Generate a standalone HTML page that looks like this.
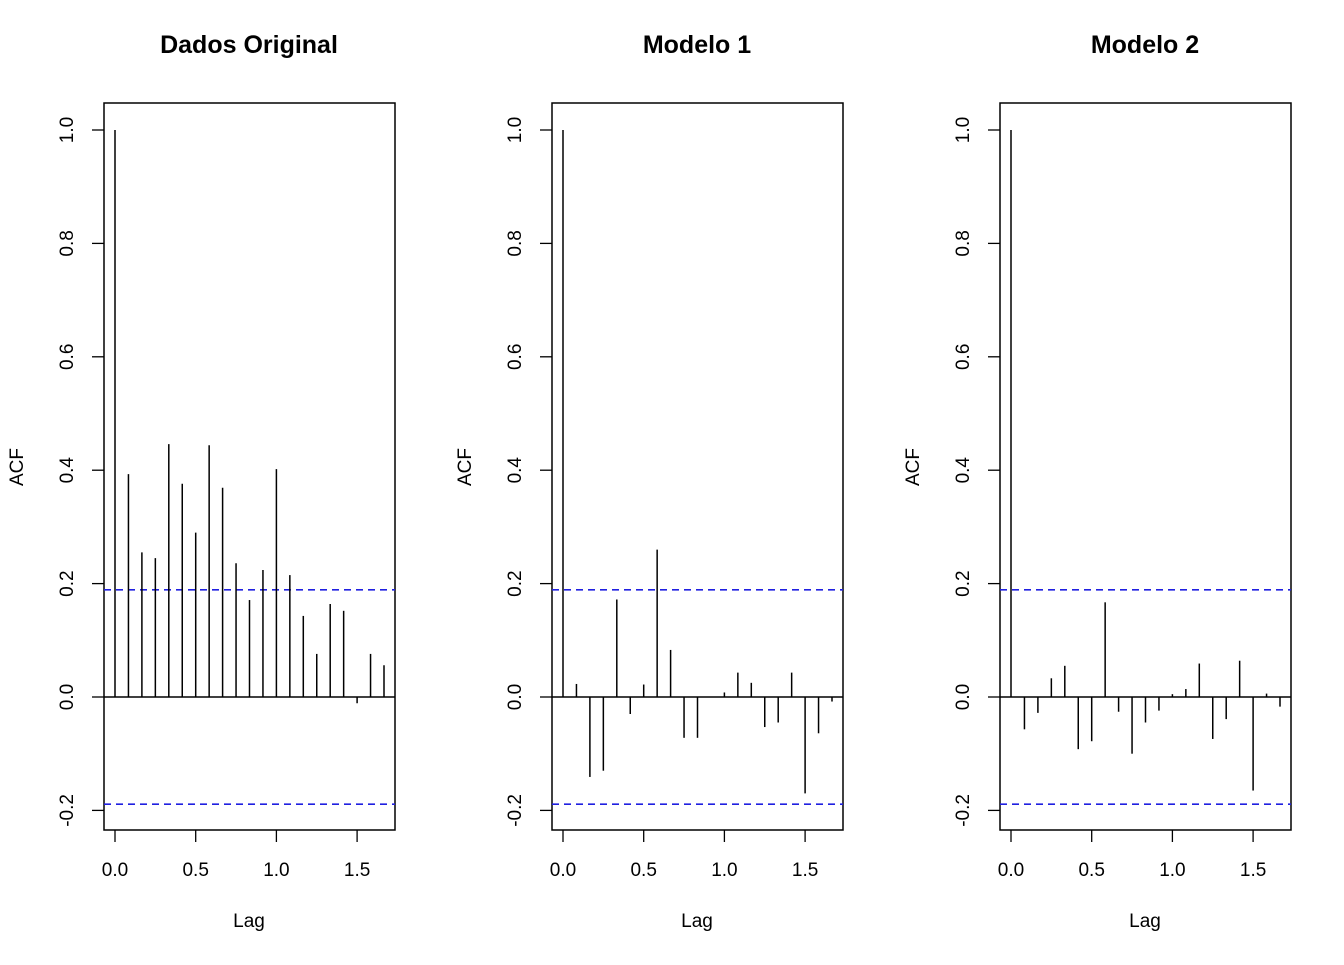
<!DOCTYPE html>
<html><head><meta charset="utf-8"><style>
html,body{margin:0;padding:0;background:#fff}
svg text{font-family:"Liberation Sans",sans-serif;fill:#000}
</style></head><body>
<svg id="c" width="1344" height="960" xmlns="http://www.w3.org/2000/svg"></svg>
<script>
const titles = ["Dados Original","Modelo 1","Modelo 2"];
const acfOriginal = [1.0,0.393,0.255,0.245,0.446,0.376,0.29,0.444,0.369,0.236,0.171,0.224,0.402,0.215,0.143,0.076,0.164,0.152,-0.011,0.076,0.056];
const acfModelo1 = [1.0,0.023,-0.141,-0.13,0.172,-0.03,0.022,0.26,0.083,-0.072,-0.072,0.0,0.008,0.043,0.025,-0.053,-0.045,0.043,-0.17,-0.064,-0.008];
const acfModelo2 = [1.0,-0.057,-0.028,0.033,0.055,-0.092,-0.078,0.167,-0.026,-0.1,-0.045,-0.024,0.005,0.014,0.059,-0.074,-0.039,0.064,-0.165,0.006,-0.017];
const confLimit = 0.189;
const yTicks = [-0.2,0.0,0.2,0.4,0.6,0.8,1.0];
const xTicks = [0.0,0.5,1.0,1.5];
const lagStep = 1/12;

const svg = document.getElementById('c');
const NS = 'http://www.w3.org/2000/svg';
function mk(tag, attrs, parent){const e=document.createElementNS(NS,tag);for(const k in attrs)e.setAttribute(k,attrs[k]);(parent||svg).appendChild(e);return e;}
const series=[acfOriginal,acfModelo1,acfModelo2];
series.forEach((vals,p)=>{
  const off=p*448;
  const g=mk('g',{});
  
  
  const yS=v=>697-v*567;
  const xS=l=>115+off+l*161.4;
  const t=mk('text',{x:249+off,y:53,'text-anchor':'middle','font-size':25,'font-weight':'bold'},g);
  t.textContent=titles[p];
  
  
  const box=mk('rect',{x:104+off,y:103,width:291,height:727,fill:'none',stroke:'#000','stroke-width':1.5},g);
  
  
  yTicks.forEach(v=>{
    const y=yS(v);
    mk('line',{x1:92+off,x2:104+off,y1:y,y2:y,stroke:'#000','stroke-width':1.3},g);
    const tx=mk('text',{x:73+off,y:y,'text-anchor':'middle','font-size':19,transform:`rotate(-90 ${73+off} ${y})`},g);
    tx.textContent=v.toFixed(1);
    
    
  });
  xTicks.forEach(v=>{
    const x=xS(v);
    mk('line',{x1:x,x2:x,y1:830,y2:842,stroke:'#000','stroke-width':1.3},g);
    const tx=mk('text',{x:x,y:876,'text-anchor':'middle','font-size':19},g);
    tx.textContent=v.toFixed(1);
    
    
  });
  const yl=mk('text',{x:23+off,y:467,'text-anchor':'middle','font-size':19,transform:`rotate(-90 ${23+off} 467)`},g);
  yl.textContent='ACF';
  
  
  const xl=mk('text',{x:249+off,y:927,'text-anchor':'middle','font-size':19},g);
  xl.textContent='Lag';
  
  
  const z=mk('line',{x1:104+off,x2:395+off,y1:yS(0),y2:yS(0),stroke:'#000','stroke-width':1.5},g);
  
  
  [confLimit,-confLimit].forEach(c=>{
    const l=mk('line',{x1:104+off,x2:395+off,y1:yS(c),y2:yS(c),stroke:'#2020e0','stroke-width':1.6,'stroke-dasharray':'7,5'},g);
    
    
  });
  vals.forEach((v,i)=>{
    const x=xS(i*lagStep);
    const b=mk('line',{x1:x,x2:x,y1:yS(0),y2:yS(v),stroke:'#000','stroke-width':1.5},g);
    
    
  });
});
</script>
</body></html>
